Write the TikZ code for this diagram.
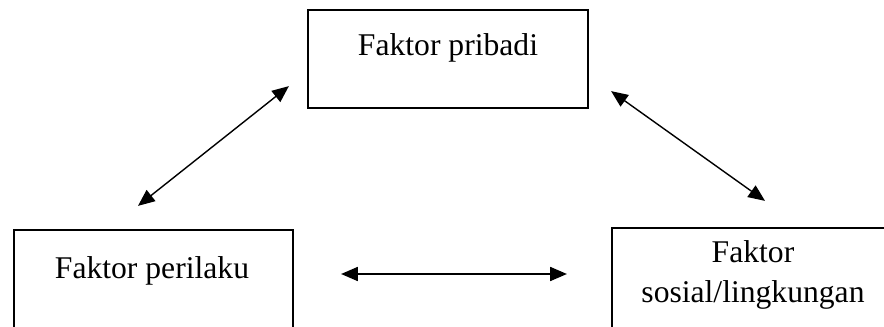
\documentclass[tikz,border=0pt]{standalone}
\usepackage{fontspec}
\setmainfont{Liberation Serif}
\usetikzlibrary{arrows.meta,calc}

\tikzset{
	faktor/.style={draw, line width=1.3pt, minimum width=5.6cm, minimum height=1.96cm, inner sep=0pt},
	faktorteks/.style={font=\fontsize{18}{22.7}\selectfont, inner sep=0pt, align=center},
	hubungan/.style={{Triangle[length=9.5pt,width=8pt]}-{Triangle[length=9.5pt,width=8pt]}, line width=0.8pt},
}

\begin{document}
\begin{tikzpicture}[x=0.02cm, y=-0.02cm]
	\useasboundingbox (0,0) rectangle (884,327);
	\clip (0,0) rectangle (884,327);

	% kotak
	\node[faktor] (pribadi) at (448,59) {};
	\node[faktor, minimum width=5.58cm, minimum height=2cm] (perilaku) at (153.5,280) {};
	\node[faktor, minimum width=5.64cm, minimum height=2.04cm] (sosial) at (753,279) {};

	\node[faktorteks, anchor=base] (pribadi teks) at ($(pribadi.north)+(0,47)$) {Faktor pribadi};
	\node[faktorteks, anchor=base] (perilaku teks) at ($(perilaku.north)+(-1.5,50)$) {Faktor perilaku};
	\node[faktorteks] (sosial teks) at ($(sosial.north)+(0,48)$) {Faktor\\sosial/lingkungan};

	% ujung panah
	\coordinate (p1) at ($(perilaku.north)+(-15.5,-23)$);
	\coordinate (p2) at ($(pribadi.south west)+(-18,-23)$);
	\coordinate (q1) at ($(pribadi.south east)+(22,-18)$);
	\coordinate (q2) at ($(sosial.north)+(12,-26)$);
	\coordinate (r1) at ($(perilaku.east)+(47,-6)$);
	\coordinate (r2) at ($(sosial.west)+(-44,-5)$);

	\draw[hubungan] (p1) -- (p2);
	\draw[hubungan] (q1) -- (q2);
	\draw[hubungan] (r1) -- (r2);
\end{tikzpicture}
\end{document}
